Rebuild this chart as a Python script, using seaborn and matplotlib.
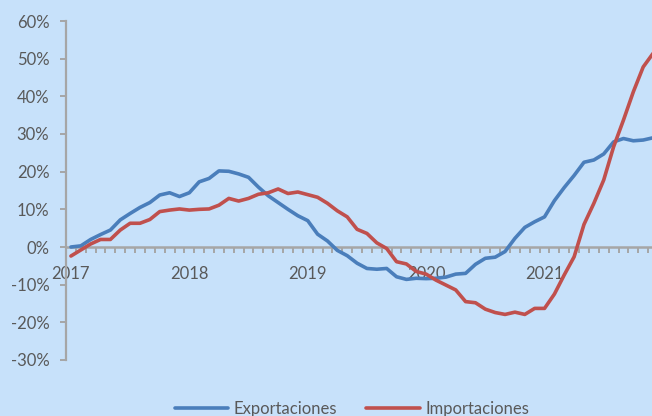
import numpy as np
import pandas as pd
import matplotlib
matplotlib.use("Agg")
import matplotlib.pyplot as plt
import seaborn as sns
from matplotlib.ticker import FixedLocator, FuncFormatter

# ---- data (monthly, Jan 2017 - Dec 2021), growth in % ----
exportaciones = [
    0.0, 0.3, 2.0, 3.3, 4.5, 7.2, 8.9, 10.5, 11.8, 13.8, 14.4, 13.4,
    14.4, 17.3, 18.2, 20.2, 20.1, 19.4, 18.5, 15.9, 13.6, 11.8, 10.0, 8.3,
    7.0, 3.4, 1.6, -0.9, -2.3, -4.3, -5.7, -5.9, -5.7, -7.9, -8.6, -8.3,
    -8.4, -8.3, -8.0, -7.2, -7.0, -4.6, -3.0, -2.7, -1.2, 2.3, 5.2, 6.7,
    8.0, 12.3, 15.8, 19.0, 22.5, 23.1, 24.7, 27.9, 28.8, 28.2, 28.4, 29.0,
]
importaciones = [
    -2.4, -0.8, 0.8, 2.0, 2.0, 4.5, 6.3, 6.3, 7.3, 9.4, 9.8, 10.1,
    9.8, 10.0, 10.1, 11.1, 12.9, 12.2, 12.9, 14.0, 14.4, 15.4, 14.2, 14.6,
    13.9, 13.2, 11.6, 9.6, 8.0, 4.7, 3.6, 1.1, -0.4, -3.9, -4.5, -6.5,
    -7.2, -8.8, -10.1, -11.4, -14.5, -14.8, -16.5, -17.4, -17.9, -17.3, -17.9, -16.3,
    -16.3, -12.5, -7.4, -2.6, 6.0, 11.6, 17.8, 26.6, 33.7, 41.2, 47.8, 51.4,
]
years = ["2017", "2018", "2019", "2020", "2021"]
series_names = ["Exportaciones", "Importaciones"]
y_ticks = [-30, -20, -10, 0, 10, 20, 30, 40, 50, 60]

n = len(exportaciones)
month_idx = np.arange(n)
df = pd.DataFrame({
    "mes": np.concatenate([month_idx, month_idx]),
    "valor": exportaciones + importaciones,
    "serie": [series_names[0]] * n + [series_names[1]] * n,
})

sns.set_theme(style="white")
plt.rcParams["font.family"] = ["Lato", "DejaVu Sans"]

BG = "#C7E1FA"
GRAY = "#A6A6A6"
TXT = "#595959"

fig = plt.figure(figsize=(6.52, 4.16), dpi=100)
fig.patch.set_facecolor(BG)
W, H = 652, 416
left_px, right_px, top_px, bot_px = 66, 658, 21, 360
ax = fig.add_axes([left_px / W, 1 - bot_px / H, (right_px - left_px) / W, (bot_px - top_px) / H])
ax.set_facecolor(BG)

sns.lineplot(data=df, x="mes", y="valor", hue="serie",
             palette={series_names[0]: "#4A7EBB", series_names[1]: "#C0504D"},
             linewidth=2.6, ax=ax, legend=False)

ax.set_xlim(-0.5, n - 0.5)
ax.set_ylim(-30, 60)
ax.set_xlabel("")
ax.set_ylabel("")

for s in ["top", "right"]:
    ax.spines[s].set_visible(False)
ax.spines["left"].set_color(GRAY)
ax.spines["left"].set_linewidth(1.6)
ax.spines["bottom"].set_position(("data", 0))
ax.spines["bottom"].set_color(GRAY)
ax.spines["bottom"].set_linewidth(1.8)
ax.spines["bottom"].set_zorder(1)

ax.yaxis.set_major_locator(FixedLocator(y_ticks))
ax.yaxis.set_major_formatter(FuncFormatter(lambda v, p: f"{int(v)}%"))
ax.tick_params(axis="y", which="major", direction="out", length=4, width=1.4,
               color=GRAY, labelsize=12, labelcolor=TXT, pad=8, left=True)

ax.xaxis.set_major_locator(FixedLocator([12 * k for k in range(len(years))]))
ax.set_xticklabels(years)
ax.xaxis.set_minor_locator(FixedLocator(np.arange(-0.5, n, 1.0)))
ax.tick_params(axis="x", which="major", length=0, labelsize=12, labelcolor=TXT, pad=14)
ax.tick_params(axis="x", which="minor", direction="out", length=4.5, width=1.4,
               color=GRAY, bottom=True)

handles = [plt.Line2D([], [], color="#4A7EBB", lw=2.6),
           plt.Line2D([], [], color="#C0504D", lw=2.6)]
fig.legend(handles, series_names, loc="center", bbox_to_anchor=(0.54, 0.017),
           ncol=2, frameon=False, fontsize=12, labelcolor=TXT,
           handlelength=3.2, handletextpad=0.35, columnspacing=1.75)

fig.savefig("out.png", dpi=100, facecolor=BG)
